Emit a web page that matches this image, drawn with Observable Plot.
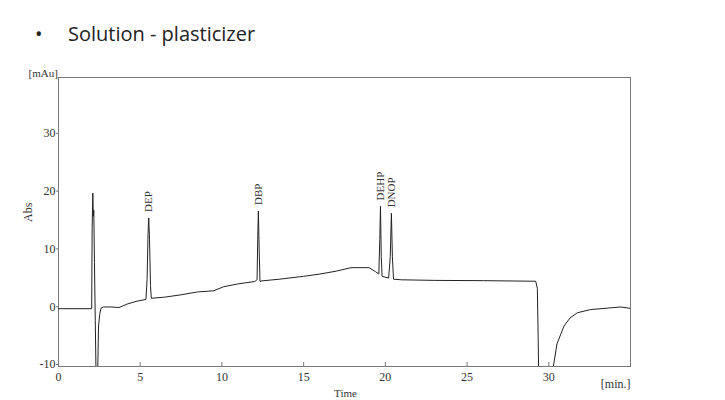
<!DOCTYPE html>
<html>
<head>
<meta charset="utf-8">
<script src="https://cdn.jsdelivr.net/npm/d3@7"></script>
<script src="https://cdn.jsdelivr.net/npm/@observablehq/plot@0.6"></script>
<style>
  body { margin: 0; background: #fff; width: 725px; height: 400px; overflow: hidden; position: relative; }
  .title { position: absolute; top: 20px; font-family: "Open Sans", "Noto Sans", sans-serif; font-size: 20px; color: #222; white-space: pre; }
  #chart { position: absolute; left: 0; top: 60px; }
  #chart svg text { font-family: 'Liberation Serif', 'DejaVu Serif', serif; }
</style>
</head>
<body>
<div class="title" style="left:35px">•</div>
<div class="title" style="left:68px">Solution - plasticizer</div>
<div id="chart"></div>
<script>
// Chromatogram trace: time [min] and absorbance [mAu]
const times = [0, 2.03, 2.06, 2.10, 2.13, 2.16, 2.20, 2.25, 2.30, 2.38, 2.45, 2.52, 2.60, 2.75, 3.2, 3.7, 4.2, 4.8, 5.35,
  5.42, 5.48, 5.52, 5.57, 5.63, 5.68, 6.5, 7.5, 8.5, 9.5, 10.1, 11.0, 12.0, 12.1, 12.15, 12.19, 12.23, 12.28, 12.33, 12.4,
  13.5, 15.0, 16.0, 17.0, 17.9, 19.0, 19.4, 19.6, 19.66, 19.70, 19.75, 19.80, 20.2, 20.30, 20.37, 20.43, 20.5, 21, 23, 26,
  29.2, 29.3, 29.35, 29.4, 30.2, 30.28, 30.5, 30.93, 31.3, 31.75, 32.56, 33.8, 34.4, 35.0];
const absorb = [0, 0, 14, 20.0, 16, 17, 8, -2, -12, -14, -3, -1, 0.1, 0.3, 0.3, 0.2, 0.8, 1.3, 1.6,
  5, 13, 15.7, 12, 4, 1.8, 2.0, 2.4, 2.9, 3.1, 3.8, 4.3, 4.7, 4.9, 5.0, 12, 16.9, 10, 4.7, 4.8,
  5.1, 5.6, 6.0, 6.5, 7.1, 7.1, 6.4, 6.0, 12, 17.7, 9, 5.6, 5.3, 9, 16.5, 9, 5.1, 5.0, 4.9, 4.85,
  4.75, 3.5, -5, -15, -15, -10, -6.1, -3.0, -1.6, -0.7, -0.15, 0.15, 0.3, 0.05];

// Peak labels
const peakNames = ["DEP", "DBP", "DEHP", "DNOP"];
const peakTimes = [5.52, 12.23, 19.70, 20.37];
const peakHeights = [15.7, 16.9, 17.7, 16.5];

// Axis ticks
const xTicks = [0, 5, 10, 15, 20, 25, 30];
const yTicks = [-10, 0, 10, 20, 30];

const trace = times.map((t, i) => ({t, a: absorb[i]}));
const peaks = peakNames.map((n, i) => ({n, t: peakTimes[i], a: peakHeights[i]}));

const serif = "'Liberation Serif', 'DejaVu Serif', serif";

const chart = Plot.plot({
  width: 725,
  height: 340,
  marginTop: 17,
  marginBottom: 34,
  marginLeft: 58,
  marginRight: 95,
  style: {fontFamily: serif, fontSize: "12px", color: "#333", background: "#fff"},
  x: {domain: [0, 35]},
  y: {domain: [-10, 40]},
  marks: [
    Plot.frame({stroke: "#777", strokeWidth: 1}),
    Plot.line(trace, {x: "t", y: "a", stroke: "#222", strokeWidth: 1, clip: true}),
    Plot.text(peaks, {x: "t", y: "a", text: "n", rotate: -90, textAnchor: "start", dy: -6, fontFamily: serif, fontSize: 11, fill: "#333"}),
    Plot.axisX({ticks: xTicks, tickSize: -4, tickPadding: 10, label: null, stroke: "#777", fontFamily: serif, fontSize: 12, fill: "#333", tickFormat: d => String(d)}),
    Plot.axisY({ticks: yTicks, tickSize: 2, tickPadding: 1, label: null, stroke: "#777", fontFamily: serif, fontSize: 12, fill: "#333", dy: -2, tickFormat: d => String(d)}),
    Plot.text(["[mAu]"], {frameAnchor: "top-left", dx: -30, dy: -8, fontFamily: serif, fontSize: 11, fill: "#333", textAnchor: "start"}),
    Plot.text(["[min.]"], {frameAnchor: "bottom-right", dx: 0, dy: 21, textAnchor: "end", fontFamily: serif, fontSize: 12, fill: "#333"}),
    Plot.text(["Time"], {frameAnchor: "bottom", dx: 1, dy: 30, fontFamily: serif, fontSize: 11, fill: "#333"}),
    Plot.text(["Abs"], {frameAnchor: "left", dx: -30, dy: 0, rotate: -90, fontFamily: serif, fontSize: 12, fill: "#333"})
  ]
});
document.getElementById("chart").appendChild(chart);
</script>
</body>
</html>
